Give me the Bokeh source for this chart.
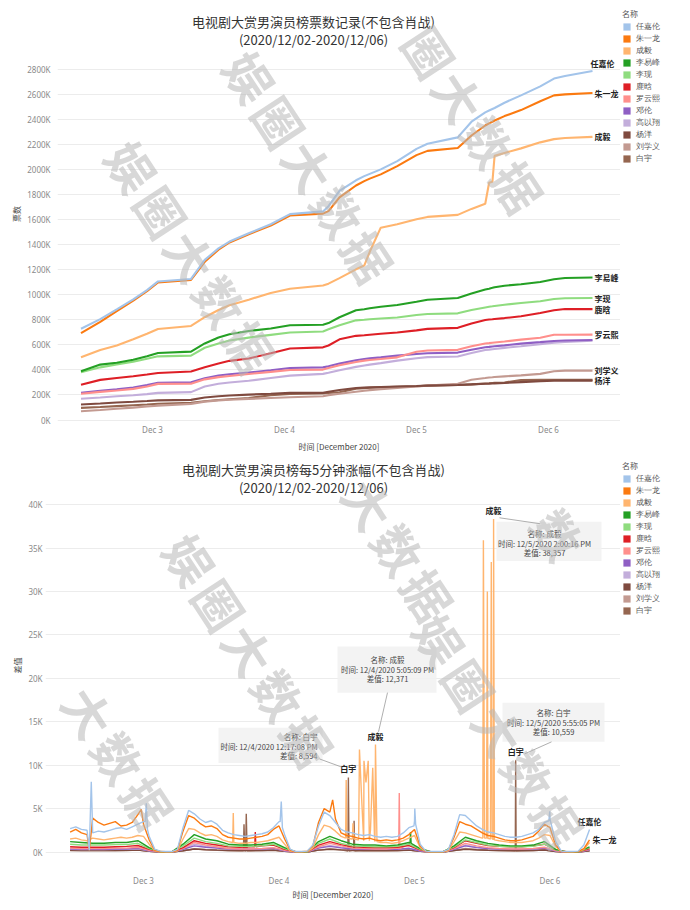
from bokeh.plotting import figure
from bokeh.models import (Range1d, FixedTicker, Legend, LegendItem, Label, BoxAnnotation,
                          Arrow, ColumnDataSource, PrintfTickFormatter)
from bokeh.layouts import column, row
from bokeh.embed import file_html
from bokeh.resources import INLINE
from bokeh.core.properties import value

# ---------------- data ----------------
NAMES = ["任嘉伦", "朱一龙", "成毅", "李易峰", "李现", "鹿晗", "罗云熙", "邓伦", "高以翔", "杨洋", "刘学义", "白宇"]
COLORS = ["#a3c4ea", "#fb7a10", "#ffb56f", "#24a024", "#8fdc7f", "#de1f26", "#ff8f8c",
          "#8f5fc4", "#c3aedb", "#7f4a3f", "#c39a91", "#956650"]

DAY_TICKS = [24, 48, 72, 96]          # hours since 2020-12-02 00:00
DAY_LABELS = ["Dec 3", "Dec 4", "Dec 5", "Dec 6"]

# cumulative votes (K) -- top chart
T_TOP = [11, 14.5, 17.5, 20.5, 23, 25, 31, 33.5, 36, 38, 41.5, 45.5, 49, 55, 56, 58, 61, 62.5,
         63.5, 65.5, 68.5, 72, 74, 79.5, 82, 84.5, 85.2, 85.8, 86.2, 88, 91, 94.5, 97, 99, 104]
VOTES = {
    "任嘉伦": [730, 807, 885, 965, 1039, 1108, 1128, 1280, 1372, 1427, 1493, 1565, 1646, 1668, 1710, 1832, 1917, 1950,
            1968, 2004, 2070, 2168, 2209, 2260, 2385, 2460, 2475, 2487, 2495, 2537, 2596, 2668, 2730, 2750, 2790],
    "朱一龙": [695, 785, 870, 955, 1030, 1100, 1120, 1265, 1362, 1420, 1485, 1555, 1635, 1650, 1670, 1780, 1875, 1910,
            1930, 1964, 2030, 2118, 2152, 2175, 2275, 2355, 2372, 2385, 2395, 2430, 2478, 2549, 2596, 2604, 2615],
    "成毅": [501, 560, 595, 645, 690, 728, 752, 822, 880, 918, 962, 1016, 1050, 1075, 1090, 1135, 1205, 1235,
           1345, 1538, 1565, 1605, 1624, 1640, 1688, 1729, 1897, 1905, 2112, 2135, 2172, 2220, 2246, 2255, 2264],
    "李易峰": [390, 443, 458, 482, 510, 536, 547, 612, 660, 685, 712, 732, 758, 762, 775, 822, 877, 886,
            893, 905, 920, 945, 962, 976, 1012, 1043, 1050, 1057, 1062, 1074, 1086, 1104, 1125, 1136, 1139],
    "李现": [382, 421, 445, 466, 490, 509, 515, 578, 612, 636, 659, 681, 700, 708, 725, 758, 797, 802,
           806, 812, 820, 840, 848, 853, 880, 900, 905, 909, 912, 922, 935, 950, 968, 974, 975],
    "鹿晗": [282, 321, 336, 350, 364, 376, 388, 422, 452, 473, 492, 533, 572, 581, 596, 645, 673, 678,
           682, 690, 700, 717, 729, 737, 772, 800, 804, 806, 808, 815, 830, 856, 877, 887, 887],
    "罗云熙": [210, 225, 236, 249, 268, 289, 290, 325, 343, 352, 368, 385, 400, 403, 415, 438, 464, 475,
            480, 488, 501, 546, 556, 561, 590, 612, 615, 618, 620, 628, 643, 658, 682, 682, 683],
    "邓伦": [218, 233, 246, 260, 280, 297, 302, 333, 356, 366, 380, 398, 416, 421, 430, 451, 478, 488,
           493, 501, 515, 528, 534, 539, 562, 582, 585, 588, 590, 597, 611, 623, 632, 636, 640],
    "高以翔": [170, 180, 190, 198, 207, 217, 223, 268, 290, 300, 314, 336, 355, 369, 378, 398, 425, 436,
            443, 455, 475, 494, 503, 508, 535, 560, 563, 566, 568, 577, 590, 606, 618, 624, 634],
    "杨洋": [124, 132, 140, 146, 152, 157, 161, 180, 190, 196, 203, 210, 217, 217, 226, 240, 256, 259,
           261, 264, 268, 272, 275, 280, 285, 290, 291, 292, 293, 296, 303, 310, 315, 315, 315],
    "刘学义": [70, 80, 90, 99, 108, 115, 129, 147, 157, 162, 169, 176, 182, 190, 199, 210, 226, 234,
            239, 247, 256, 268, 275, 290, 322, 336, 340, 342, 344, 349, 357, 369, 390, 395, 395],
    "白宇": [97, 104, 111, 118, 124, 130, 137, 150, 160, 166, 176, 198, 209, 212, 216, 222, 250, 255,
           258, 262, 266, 270, 275, 280, 285, 292, 294, 296, 297, 300, 320, 321, 321, 321, 321],
}
TOP_LABELED = ["任嘉伦", "朱一龙", "成毅", "李易峰", "李现", "鹿晗", "罗云熙", "刘学义", "杨洋"]

# 5-minute increments -- bottom chart (hourly / two-hourly readings)
H_FINE = list(range(11, 104))
H_COARSE = list(range(11, 104, 2))
DELTA = {
    "任嘉伦": [2700, 2900, 2600, 2500, 2200, 2400, 2300, 2500, 2700, 2800,
            2600, 2900, 3200, 3500, 1800, 300, 100, 50, 50, 300,
            2800, 4800, 4400, 3800, 3400, 3600, 3200, 2500, 2200, 2000,
            1900, 1800, 1900, 2000, 2100, 2300, 2800, 3500, 2000, 300,
            50, 50, 100, 800, 3000, 4600, 4200, 3400, 2600, 2300,
            2200, 2000, 1900, 2000, 1800, 1700, 1800, 1700, 1800, 2200,
            2800, 3600, 900, 100, 50, 50, 50, 300, 2000, 4300,
            4200, 3600, 3000, 2600, 2300, 2200, 2000, 1800, 1700, 1700,
            1800, 2000, 2200, 2600, 3400, 3800, 1200, 100, 50, 50,
            100, 800, 2600],
    "朱一龙": [2300, 2600, 2200, 2000, 3900, 3400, 3100, 3300, 3500, 3000,
            3100, 3400, 4300, 3200, 1400, 200, 50, 30, 30, 200,
            2400, 4200, 3900, 3300, 2900, 3000, 2700, 2000, 1700, 1600,
            1500, 1500, 1600, 1700, 1800, 2000, 2600, 3000, 1500, 200,
            30, 30, 80, 700, 3400, 5000, 4600, 3800, 2200, 1900,
            1800, 1600, 1500, 1600, 1400, 1300, 1400, 1300, 1400, 1600,
            2000, 2600, 700, 80, 30, 30, 30, 250, 1700, 3500,
            3200, 3000, 2600, 2200, 1900, 1800, 1600, 1400, 1300, 1300,
            1400, 1600, 1800, 2400, 3200, 2800, 800, 80, 30, 30,
            60, 400, 1400],
    "成毅": [1500, 1600, 1400, 1300, 1600, 1500, 1400, 1500, 1600, 1700,
           1600, 1700, 1900, 1800, 900, 150, 30, 20, 20, 150,
           1500, 2700, 2600, 2200, 1900, 2000, 1800, 1400, 1200, 1100,
           1000, 1000, 1100, 1100, 1200, 1300, 1500, 1700, 900, 100,
           20, 20, 50, 500, 2000, 3100, 2900, 2400, 1800, 1600,
           1500, 1400, 1300, 1300, 1200, 1100, 1100, 1000, 1100, 1300,
           1600, 1900, 500, 60, 20, 20, 20, 150, 1200, 2300,
           2200, 2000, 1800, 1600, 1500, 1400, 1300, 1200, 1100, 1100,
           1100, 1200, 1300, 1600, 2000, 1900, 600, 60, 20, 20,
           40, 300, 1100],
    "李易峰": [1200, 1100, 1000, 1000, 1100, 1100, 1300, 500, 30, 20, 900, 2000, 1500, 1300, 900, 800,
            800, 900, 1100, 500, 20, 20, 1200, 1800, 1300, 900, 800, 800, 700, 800, 1100, 400,
            20, 20, 700, 1700, 1300, 1000, 800, 700, 700, 800, 1200, 300, 20, 20, 600],
    "李现": [900, 800, 800, 800, 850, 850, 1000, 400, 20, 15, 700, 1600, 1200, 1000, 700, 650,
           650, 700, 900, 400, 15, 15, 1000, 1500, 1000, 700, 650, 600, 600, 650, 900, 300,
           15, 15, 600, 1400, 1100, 800, 650, 600, 600, 650, 900, 250, 15, 15, 500],
    "鹿晗": [600, 550, 550, 550, 600, 650, 750, 300, 15, 10, 500, 1300, 1000, 800, 600, 550,
           600, 700, 800, 300, 10, 10, 800, 1200, 850, 600, 550, 500, 500, 550, 750, 250,
           10, 10, 500, 1300, 1000, 750, 650, 600, 600, 700, 900, 250, 10, 10, 400],
    "罗云熙": [450, 400, 400, 400, 450, 450, 550, 200, 10, 10, 400, 1100, 800, 600, 400, 350,
            350, 400, 500, 200, 10, 10, 600, 1000, 700, 450, 400, 350, 350, 450, 900, 200,
            10, 10, 400, 1000, 700, 500, 400, 350, 350, 400, 550, 150, 10, 10, 300],
    "邓伦": [350, 330, 320, 320, 340, 350, 420, 150, 10, 5, 300, 700, 550, 450, 350, 320,
           320, 350, 420, 150, 5, 5, 450, 650, 480, 350, 320, 300, 300, 320, 420, 120,
           5, 5, 300, 700, 500, 400, 330, 300, 300, 330, 450, 120, 5, 5, 250],
    "高以翔": [300, 280, 280, 280, 300, 320, 380, 150, 10, 5, 300, 900, 650, 500, 380, 330,
            330, 380, 450, 150, 5, 5, 500, 750, 520, 400, 350, 330, 330, 350, 450, 130,
            5, 5, 350, 800, 550, 420, 350, 330, 330, 350, 480, 130, 5, 5, 280],
    "杨洋": [200, 180, 170, 170, 180, 190, 230, 80, 5, 5, 150, 350, 270, 220, 180, 160,
           160, 180, 220, 80, 5, 5, 220, 330, 250, 190, 170, 160, 160, 170, 220, 70,
           5, 5, 170, 330, 260, 200, 170, 160, 160, 170, 230, 60, 5, 5, 140],
    "刘学义": [220, 200, 190, 190, 200, 210, 250, 90, 5, 5, 170, 380, 290, 230, 190, 170,
            170, 190, 230, 90, 5, 5, 240, 360, 270, 200, 180, 170, 170, 180, 230, 80,
            5, 5, 200, 400, 300, 240, 200, 180, 180, 200, 300, 80, 5, 5, 150],
    "白宇": [180, 170, 160, 160, 170, 180, 220, 80, 5, 5, 150, 330, 250, 200, 160, 150,
           150, 170, 200, 80, 5, 5, 220, 320, 240, 180, 160, 150, 150, 160, 210, 70,
           5, 5, 170, 320, 250, 190, 160, 150, 150, 160, 220, 60, 5, 5, 130],
}
FINE_SERIES = ["任嘉伦", "朱一龙", "成毅"]

# short 5-minute spikes
SPIKE_H = {
    "任嘉伦": [14.4, 14.75, 24.3, 24.5, 24.7, 48.2, 48.4, 48.6, 71.9, 72.05, 72.2, 95.8, 95.95, 96.1],
    "朱一龙": [14.4, 23.6, 57.5],
    "成毅": [39.8, 39.9, 40.0, 59.8, 59.9, 60.05, 60.9, 61.1, 61.3, 62.1, 62.25, 62.65, 63.05, 63.4,
           63.8, 64.2, 64.6, 64.9, 65.086, 65.35, 84.1, 84.2, 84.4, 84.75, 84.9, 85.05, 85.45,
           85.6, 85.75, 85.9, 86.004, 86.15],
    "李易峰": [71.2, 71.3, 71.4],
    "鹿晗": [43.7, 43.8, 43.9],
    "罗云熙": [69.2, 69.3, 69.4],
    "白宇": [41.7, 41.8, 41.95, 42.1, 42.2, 42.35, 60.2, 60.286, 60.4, 61.2, 61.3, 61.4, 89.85, 89.918, 90.0],
}
SPIKE_V = {
    "任嘉伦": [200, 8100, 3500, 5600, 2600, 3500, 5800, 2800, 3000, 5000, 3200, 3600, 4700, 3500],
    "朱一龙": [200, 4900, 6000],
    "成毅": [1100, 4500, 1100, 1600, 8300, 1600, 1500, 3300, 1500, 1400, 11800, 6000, 10500, 8000,
           10500, 2500, 9700, 2000, 12371, 1200, 1600, 35900, 1600, 1600, 30000, 1600, 1500,
           33400, 1500, 1500, 38357, 1400],
    "李易峰": [1000, 2300, 1000],
    "鹿晗": [600, 2300, 600],
    "罗云熙": [400, 6800, 400],
    "白宇": [150, 3200, 150, 150, 4400, 150, 120, 8594, 120, 120, 3600, 120, 120, 10559, 120],
}

# highlighted points (tooltips on the reference)
ANN_NAME = ["成毅", "成毅", "白宇", "白宇"]
ANN_H = [86.004, 65.086, 60.286, 89.918]
ANN_V = [38357, 12371, 8594, 10559]
ANN_TIME = ["12/5/2020 2:00:16 PM", "12/4/2020 5:05:09 PM", "12/4/2020 12:17:08 PM", "12/5/2020 5:55:05 PM"]

# ---------------- layout helpers (page pixel -> data) ----------------
def top_x(px): return (px - 20) / 5.5
def top_y(py): return (419.5 - py) * 7.977
def bot_x(px): return (px - 7.5) / 5.646
def bot_y(py): return (851.6 - py) / 0.00864

CJK = "Noto Sans CJK SC"
LAT = "Noto Sans"
MAIN_W, LEG_W = 620, 69
TOP_H, BOT_H = 455, 453
GAP = 5                                   # frame starts this far below each canvas top
TOP_FRAME = (57, 620, GAP, 421)           # page px: left, right, top, bottom
BOT_FRAME = (45, 620, TOP_H + GAP, 872)


def style(p, yticks, ylabel):
    p.outline_line_color = None
    p.background_fill_color = "white"
    p.border_fill_color = "white"
    p.xgrid.visible = False
    p.ygrid.grid_line_color = "#ececec"
    p.ygrid.grid_line_width = 1
    for ax in (p.xaxis[0], p.yaxis[0]):
        ax.axis_line_color = None
        ax.major_tick_line_color = None
        ax.minor_tick_line_color = None
        ax.major_tick_out = 0
        ax.major_tick_in = 0
        ax.minor_tick_out = 0
        ax.minor_tick_in = 0
        ax.major_label_text_font = LAT
        ax.major_label_text_font_size = "8px"
        ax.major_label_text_color = "#8a8a8a"
        ax.axis_label_text_font = CJK
        ax.axis_label_text_font_size = "8px"
        ax.axis_label_text_font_style = "normal"
        ax.axis_label_text_color = "#444444"
    p.xaxis.ticker = FixedTicker(ticks=DAY_TICKS)
    p.xaxis.major_label_overrides = {t: l for t, l in zip(DAY_TICKS, DAY_LABELS)}
    p.xaxis.axis_label = "时间 [December 2020]"
    p.xaxis.major_label_standoff = 2
    p.yaxis.ticker = FixedTicker(ticks=yticks)
    p.yaxis.axis_label = ylabel
    p.yaxis.axis_label_standoff = 2


def legend_fig(height, top_gap):
    lf = figure(width=LEG_W, height=height, output_backend="svg", toolbar_location=None,
                x_range=Range1d(0, LEG_W), y_range=Range1d(height, 0),
                x_axis_type=None, y_axis_type=None, min_border=0, min_border_top=top_gap)
    lf.outline_line_color = None
    lf.grid.visible = False
    lf.background_fill_color = "white"
    lf.border_fill_color = "white"
    items = []
    for name, c in zip(NAMES, COLORS):
        # zero-size proxy: only its colour is used by the legend key
        r = lf.quad(left=[0], right=[0], bottom=[0], top=[0], fill_color=c, line_alpha=0)
        items.append(LegendItem(label=name, renderers=[r]))
    lg = Legend(items=items, title="名称", location="top_left", margin=2, padding=0,
                glyph_width=9, glyph_height=9, label_height=9, label_standoff=5, spacing=1,
                title_standoff=2, border_line_color=None, background_fill_alpha=0,
                title_text_font=CJK, title_text_font_size="8px", title_text_color="#555555",
                title_text_font_style="normal",
                label_text_font=LAT, label_text_font_size="7.8px", label_text_color="#555555")
    lf.add_layout(lg)
    return lf


WM_STARTS = [(-90, -140), (132, 165), (250, 75), (400, 5), (560, -100), (-15, 215), (470, 400),
             (590, 320), (310, 415), (190, 560), (30, 622), (440, 640), (390, 860), (640, 690),
             (-90, 690), (-60, 440)]
WM_TEXT = "娱圈大数据"
WM_STEP = (29.5, 45)
WM_ANGLE = -0.99


def add_watermarks(p, fx, fy, frame, m=33):
    x0, x1, y0, y1 = frame
    for (sx, sy) in WM_STARTS:
        for k, ch in enumerate(WM_TEXT):
            cx, cy = sx + WM_STEP[0] * k, sy + WM_STEP[1] * k
            if cx - m < x0 or cx + m > x1 or cy - m < y0 or cy + m > y1:
                continue
            p.add_layout(Label(x=fx(cx), y=fy(cy), text=ch, angle=WM_ANGLE,
                               text_font=CJK, text_font_size="48px", text_font_style="bold",
                               text_color="#b8b8b8", text_alpha=0.55,
                               text_align="center", text_baseline="middle"))


# ---------------- top chart ----------------
p1 = figure(width=MAIN_W, height=TOP_H, output_backend="svg", toolbar_location=None,
            title_location=None,
            x_range=Range1d(top_x(57), top_x(620)), y_range=Range1d(top_y(421), top_y(GAP)),
            min_border_left=57, min_border_right=0, min_border_top=0, min_border_bottom=TOP_H - 421)
style(p1, list(range(0, 2801, 200)), "票数")
p1.yaxis.formatter = PrintfTickFormatter(format="%dK")
p1.yaxis.major_label_standoff = 7
p1.xaxis.axis_label_standoff = 3

for name, c in reversed(list(zip(NAMES, COLORS))):
    p1.line(T_TOP, VOTES[name], line_color=c, line_width=2.1)

xo = {n: 2 for n in TOP_LABELED}
yo = {n: 0 for n in TOP_LABELED}
xo["任嘉伦"] = -2
yo["任嘉伦"] = -8
yo["朱一龙"] = 1
lab_src = ColumnDataSource(dict(
    x=[T_TOP[-1] for n in TOP_LABELED],
    y=[VOTES[n][-1] for n in TOP_LABELED],
    text=TOP_LABELED,
    xo=[xo[n] for n in TOP_LABELED],
    yo=[yo[n] for n in TOP_LABELED]))
p1.text(x="x", y="y", text="text", x_offset="xo", y_offset="yo", source=lab_src,
        text_font=value(CJK), text_font_size="8px", text_font_style="bold",
        text_color="#222222", text_align="left", text_baseline="middle")

p1.add_layout(Label(x=top_x(313), y=top_y(20), text="电视剧大赏男演员榜票数记录(不包含肖战)",
                    text_font=CJK, text_font_size="13px", text_color="#333333",
                    text_align="center", text_baseline="middle"))
p1.add_layout(Label(x=top_x(313), y=top_y(38), text="(2020/12/02-2020/12/06)",
                    text_font=CJK, text_font_size="13px", text_color="#333333",
                    text_align="center", text_baseline="middle"))
add_watermarks(p1, top_x, top_y, TOP_FRAME)

# ---------------- bottom chart ----------------
p2 = figure(width=MAIN_W, height=BOT_H, output_backend="svg", toolbar_location=None,
            title_location=None,
            x_range=Range1d(bot_x(45), bot_x(620)), y_range=Range1d(bot_y(872), bot_y(TOP_H + GAP)),
            min_border_left=45, min_border_right=0, min_border_top=0,
            min_border_bottom=TOP_H + BOT_H - 872)
style(p2, list(range(0, 40001, 5000)), "差值")
p2.yaxis.major_label_overrides = {v: f"{v // 1000}K" for v in range(0, 40001, 5000)}
p2.yaxis.major_label_standoff = 3
p2.xaxis.axis_label_standoff = 0


def merged(name):
    hs = H_FINE if name in FINE_SERIES else H_COARSE
    d = dict(zip(hs, DELTA[name]))
    d.update(zip(SPIKE_H.get(name, []), SPIKE_V.get(name, [])))
    ks = sorted(d)
    return ks, [d[k] for k in ks]


for name, c in reversed(list(zip(NAMES, COLORS))):
    xs, ys = merged(name)
    p2.line(xs, ys, line_color=c, line_width=1.4)

# end labels
p2.text(x=[H_FINE[-1]], y=[DELTA["任嘉伦"][-1]], text=["任嘉伦"], y_offset=-2,
        text_font=value(CJK), text_font_size="8px", text_font_style="bold", text_color="#222222",
        text_align="center", text_baseline="bottom")
p2.text(x=[H_FINE[-1]], y=[DELTA["朱一龙"][-1]], text=["朱一龙"], x_offset=3,
        text_font=value(CJK), text_font_size="8px", text_font_style="bold", text_color="#222222",
        text_align="left", text_baseline="middle")

# highlighted point labels
p2.text(x=ANN_H, y=ANN_V, text=ANN_NAME, y_offset=-3,
        text_font=value(CJK), text_font_size="8px", text_font_style="bold", text_color="#222222",
        text_align="center", text_baseline="bottom")

# tooltip boxes: (left, right, top, bottom, text x, align, first line y, connector)
BOXES = [
    (496, 601, 523, 562, 544, "center", 535, (499, 519, 540, 525)),
    (337, 436, 647, 693, 387, "center", 660, (387, 693, 378, 732)),
    (218, 322, 728, 763, 317, "right", 737, (319, 759, 341, 767)),
    (502, 604, 703, 742, 553, "center", 713, (524, 754, 551, 742)),
]
for i, (l, r, t, b, tx, al, ly, (c0x, c0y, c1x, c1y)) in enumerate(BOXES):
    p2.add_layout(BoxAnnotation(left=bot_x(l), right=bot_x(r), top=bot_y(t), bottom=bot_y(b),
                                fill_color="#f2f2f2", fill_alpha=0.9, line_color=None))
    lines = [f"名称: {ANN_NAME[i]}", f"时间: {ANN_TIME[i]}", f"差值: {ANN_V[i]:,}"]
    for k, s in enumerate(lines):
        p2.add_layout(Label(x=bot_x(tx), y=bot_y(ly + 9.5 * k), text=s, text_font=CJK,
                            text_font_size="7.5px", text_color="#444444", text_align=al,
                            text_baseline="middle"))
    p2.add_layout(Arrow(end=None, x_start=bot_x(c0x), y_start=bot_y(c0y), x_end=bot_x(c1x),
                        y_end=bot_y(c1y), line_color="#9a9a9a", line_width=0.8))

p2.add_layout(Label(x=bot_x(313), y=bot_y(471), text="电视剧大赏男演员榜每5分钟涨幅(不包含肖战)",
                    text_font=CJK, text_font_size="13px", text_color="#333333",
                    text_align="center", text_baseline="middle"))
p2.add_layout(Label(x=bot_x(313), y=bot_y(488.5), text="(2020/12/02-2020/12/06)",
                    text_font=CJK, text_font_size="13px", text_color="#333333",
                    text_align="center", text_baseline="middle"))
add_watermarks(p2, bot_x, bot_y, BOT_FRAME)

layout = column(row(p1, legend_fig(TOP_H, 6)), row(p2, legend_fig(BOT_H, 3)))
open("out.html", "w").write(file_html(layout, INLINE))
